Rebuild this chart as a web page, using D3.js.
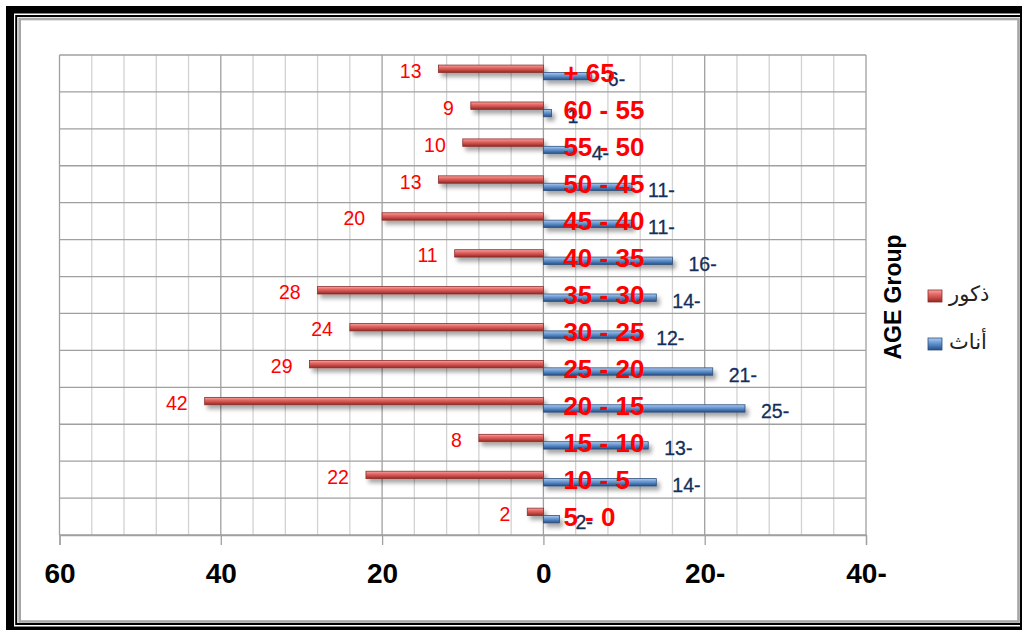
<!DOCTYPE html>
<html>
<head>
<meta charset="utf-8">
<script src="https://cdn.jsdelivr.net/npm/d3@7/dist/d3.min.js"></script>
<style>
  html, body { margin: 0; padding: 0; background: #fff; }
  svg { display: block; font-family: "Liberation Sans", Arial, "DejaVu Sans", sans-serif; }
</style>
</head>
<body>
<svg id="chart" width="1022" height="630"></svg>
<script>
// Age groups, top to bottom
const categories = ["+ 65", "60 - 55", "55 - 50", "50 - 45", "45 - 40", "40 - 35", "35 - 30",
                    "30 - 25", "25 - 20", "20 - 15", "15 - 10", "10 - 5", "5 - 0"];
// Males (drawn to the left) and females (drawn to the right)
const males   = [13, 9, 10, 13, 20, 11, 28, 24, 29, 42, 8, 22, 2];
const females = [6, 1, 4, 11, 11, 16, 14, 12, 21, 25, 13, 14, 2];
const xTicks = [60, 40, 20, 0, -20, -40];
const seriesNames = ["ذكور", "أناث"];
const legendTitle = "AGE Group";

const svg = d3.select("#chart");
const W = 1022, H = 630;

// ---- frame ----
svg.append("rect").attr("x", 0).attr("y", 0).attr("width", W).attr("height", H).attr("fill", "#fff");
svg.append("rect").attr("x", 6).attr("y", 6).attr("width", W + 20).attr("height", H + 20).attr("fill", "#000");
svg.append("rect").attr("x", 14).attr("y", 13.5).attr("width", 1006).attr("height", 613).attr("fill", "#fff");
svg.append("rect").attr("x", 16.2).attr("y", 16).attr("width", 1010).attr("height", 608)
  .attr("fill", "none").attr("stroke", "#000").attr("stroke-width", 2);
svg.append("rect").attr("x", 19.7).attr("y", 19).attr("width", 998.8).attr("height", 602.5)
  .attr("fill", "#fff").attr("stroke", "#a6a6a6").attr("stroke-width", 2.6);

// ---- scales ----
const x = d3.scaleLinear().domain([60, -40]).range([59.5, 866]);
const y = d3.scaleBand().domain(categories).range([55, 535]);
const sub = d3.scaleBand().domain(["m", "f"]).range([0, y.bandwidth()]).paddingOuter(1.5);
const shift = -1;

// ---- defs: gradients + shadow ----
const defs = svg.append("defs");
function grad(id, stops) {
  const g = defs.append("linearGradient").attr("id", id)
    .attr("x1", 0).attr("y1", 0).attr("x2", 0).attr("y2", 1);
  stops.forEach(([o, c]) => g.append("stop").attr("offset", o).attr("stop-color", c));
}
grad("gRed", [[0, "#f7a9a6"], [0.3, "#e8706c"], [0.65, "#c94a46"], [1, "#8a2a28"]]);
grad("gBlue", [[0, "#b3cdee"], [0.3, "#7aa5da"], [0.65, "#4a7cba"], [1, "#2a4e7c"]]);
const sh = defs.append("filter").attr("id", "shadow")
  .attr("x", "-10%").attr("y", "-100%").attr("width", "130%").attr("height", "400%");
sh.append("feDropShadow").attr("dx", 3).attr("dy", 4).attr("stdDeviation", 2.2)
  .attr("flood-color", "#000").attr("flood-opacity", 0.35);

// ---- grid ----
const grid = svg.append("g");
const minor = d3.range(60, -41, -4).filter(v => !xTicks.includes(v));
grid.selectAll(".vminor").data(minor).join("line")
  .attr("x1", d => x(d)).attr("x2", d => x(d)).attr("y1", 55).attr("y2", 535)
  .attr("stroke", "#d2d2d2").attr("stroke-width", 1.3);
grid.selectAll(".vmajor").data(xTicks).join("line")
  .attr("x1", d => x(d)).attr("x2", d => x(d)).attr("y1", 55).attr("y2", 535)
  .attr("stroke", "#a0a0a0").attr("stroke-width", 1.3);
const rowEdges = categories.map(c => y(c)).concat([535]);
grid.selectAll(".hline").data(rowEdges).join("line")
  .attr("x1", x(60)).attr("x2", x(-40)).attr("y1", d => d).attr("y2", d => d)
  .attr("stroke", "#a0a0a0").attr("stroke-width", 1.3);

// ---- x axis ----
const fmt = d => d < 0 ? Math.abs(d) + "-" : String(d);
const axis = svg.append("g").attr("transform", "translate(0,535)")
  .call(d3.axisBottom(x).tickValues(xTicks).tickSize(10).tickPadding(18).tickFormat(fmt));
axis.select(".domain").attr("stroke", "#a0a0a0").attr("stroke-width", 1.3);
axis.selectAll(".tick line").attr("stroke", "#a0a0a0").attr("stroke-width", 1.3);
axis.selectAll(".tick text").attr("fill", "#000").attr("font-size", 28).attr("font-weight", "bold")
  .attr("font-family", "'Liberation Sans', Arial, sans-serif");

// ---- bars ----
const rows = categories.map((c, i) => ({ c, m: males[i], f: females[i] }));
const bars = svg.append("g").attr("filter", "url(#shadow)");
bars.selectAll(".male").data(rows).join("rect")
  .attr("x", d => x(d.m)).attr("width", d => x(0) - x(d.m))
  .attr("y", d => y(d.c) + sub("m") + shift).attr("height", sub.bandwidth())
  .attr("fill", "url(#gRed)").attr("stroke", "#8c2d2a").attr("stroke-width", 0.8);
bars.selectAll(".female").data(rows).join("rect")
  .attr("x", x(0)).attr("width", d => x(-d.f) - x(0))
  .attr("y", d => y(d.c) + sub("f") + shift).attr("height", sub.bandwidth())
  .attr("fill", "url(#gBlue)").attr("stroke", "#2c4f7e").attr("stroke-width", 0.8);

// ---- value labels ----
svg.append("g").selectAll("text").data(rows).join("text")
  .attr("x", d => x(d.m) - 17)
  .attr("y", d => y(d.c) + sub("m") + shift + sub.bandwidth() / 2 + 2)
  .attr("dominant-baseline", "central").attr("text-anchor", "end")
  .attr("font-size", 19.5).attr("fill", "#ff0000")
  .text(d => d.m);
svg.append("g").selectAll("text").data(rows).join("text")
  .attr("x", d => x(-d.f) + 16)
  .attr("y", d => y(d.c) + sub("f") + shift + sub.bandwidth() / 2 + 3)
  .attr("dominant-baseline", "central").attr("text-anchor", "start")
  .attr("font-size", 19.5).attr("fill", "#142f5a").attr("stroke", "#142f5a").attr("stroke-width", 0.3)
  .text(d => d.f + "-");

// ---- age-group labels ----
svg.append("g").selectAll("text").data(categories).join("text")
  .attr("x", x(0) + 20).attr("y", d => y(d) + y.bandwidth() / 2)
  .attr("dominant-baseline", "central").attr("text-anchor", "start")
  .attr("font-size", 26).attr("font-weight", "bold").attr("fill", "#ff0000")
  .text(d => d);

// ---- legend ----
const lg = svg.append("g");
lg.append("text").attr("transform", "translate(901,297) rotate(-90)")
  .attr("text-anchor", "middle").attr("font-size", 23).attr("font-weight", "bold").attr("fill", "#000")
  .text(legendTitle);
const legendY = d3.scalePoint().domain(seriesNames).range([296, 344]);
const legendFill = d3.scaleOrdinal().domain(seriesNames).range(["url(#gRed)", "url(#gBlue)"]);
const legendStroke = d3.scaleOrdinal().domain(seriesNames).range(["#8c2d2a", "#2c4f7e"]);
seriesNames.forEach(n => {
  lg.append("rect").attr("x", 928).attr("y", legendY(n) - 6).attr("width", 14).attr("height", 12)
    .attr("fill", legendFill(n)).attr("stroke", legendStroke(n)).attr("stroke-width", 0.8);
  lg.append("text").attr("x", 949).attr("y", legendY(n) - 2)
    .attr("dominant-baseline", "central").attr("text-anchor", "start")
    .attr("direction", "ltr")
    .attr("font-size", 21).attr("fill", "#222")
    .attr("font-family", "'DejaVu Sans', sans-serif")
    .text(n);
});
</script>
</body>
</html>
